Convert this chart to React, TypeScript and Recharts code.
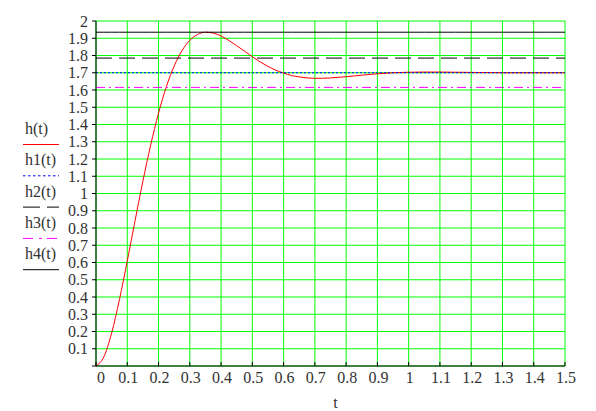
import React from 'react';
import { LineChart, Line, XAxis, YAxis, CartesianGrid, Legend } from 'recharts';

const tValues = [
  0, 0.025, 0.05, 0.075, 0.1, 0.125, 0.15, 0.175, 0.2, 0.225, 0.25, 0.275, 0.3,
  0.325, 0.35, 0.375, 0.4, 0.425, 0.45, 0.475, 0.5, 0.525, 0.55, 0.575, 0.6,
  0.625, 0.65, 0.675, 0.7, 0.725, 0.75, 0.8, 0.85, 0.9, 0.95, 1.0, 1.05, 1.1,
  1.15, 1.2, 1.25, 1.3, 1.35, 1.4, 1.45, 1.5,
];
const hValues = [
  0, 0.053, 0.191, 0.385, 0.609, 0.843, 1.072, 1.282, 1.466, 1.619, 1.739, 1.828,
  1.888, 1.922, 1.935, 1.93, 1.913, 1.887, 1.857, 1.825, 1.793, 1.763, 1.737,
  1.715, 1.698, 1.684, 1.676, 1.67, 1.668, 1.668, 1.67, 1.677, 1.686, 1.694, 1.7,
  1.703, 1.704, 1.704, 1.703, 1.702, 1.701, 1.7, 1.7, 1.7, 1.7, 1.7,
];
const h1Level = 1.7;
const h2Level = 1.785;
const h3Level = 1.615;
const h4Level = 1.935;

const xTicks = [0, 0.1, 0.2, 0.3, 0.4, 0.5, 0.6, 0.7, 0.8, 0.9, 1, 1.1, 1.2, 1.3, 1.4, 1.5];
const yTicks = [
  0, 0.1, 0.2, 0.3, 0.4, 0.5, 0.6, 0.7, 0.8, 0.9, 1, 1.1, 1.2, 1.3, 1.4, 1.5, 1.6,
  1.7, 1.8, 1.9, 2,
];
const seriesKeys = ['h', 'h1', 'h2', 'h3', 'h4'];
const seriesNames = ['h(t)', 'h1(t)', 'h2(t)', 'h3(t)', 'h4(t)'];
const xLabel = 't';

const seriesStyle: Record<string, { color: string; dash?: string; legendDash?: string }> = {
  h: { color: '#ff0000' },
  h1: { color: '#0000ff', dash: '2 2', legendDash: '2.5 2.5' },
  h2: { color: '#000000', dash: '16 7', legendDash: '17 7' },
  h3: { color: '#ff00ff', dash: '9 4 2 4', legendDash: '10 6 3 5' },
  h4: { color: '#000000' },
};

const tableData = tValues.map((t, i) => ({
  t,
  h: hValues[i],
  h1: h1Level,
  h2: h2Level,
  h3: h3Level,
  h4: h4Level,
}));

const FONT = 'Liberation Serif, Times New Roman, serif';
const TEXT = '#333333';

const renderLegend = () => (
  <svg width={70} height={170} style={{ display: 'block' }}>
    {seriesKeys.map((k, i) => (
      <g key={k}>
        <text x={17} y={26 + i * 31.3} fontFamily={FONT} fontSize={16} fill={TEXT}>
          {seriesNames[i]}
        </text>
        <line
          x1={15}
          x2={51}
          y1={36.5 + i * 31.3}
          y2={36.5 + i * 31.3}
          stroke={seriesStyle[k].color}
          strokeWidth={1}
          strokeDasharray={seriesStyle[k].legendDash}
        />
      </g>
    ))}
  </svg>
);

const XTick = (props: any) => {
  const { x, y, payload } = props;
  const shift = payload.value === 0 ? 5 : 1;
  return (
    <text x={x + shift} y={y} dy="0.71em" textAnchor="middle" fontFamily={FONT} fontSize={16} fill={TEXT}>
      {String(payload.value)}
    </text>
  );
};

export default function App() {
  return (
    <LineChart
      width={588}
      height={403}
      data={tableData}
      margin={{ top: 13, right: 31, bottom: 0, left: 28 }}
    >
      <CartesianGrid stroke="#00ff00" strokeWidth={1} horizontalValues={yTicks} verticalValues={xTicks} />
      <XAxis
        dataKey="t"
        type="number"
        domain={[0, 1.5]}
        ticks={xTicks}
        interval={0}
        height={45}
        axisLine={{ stroke: '#000000' }}
        tickLine={{ stroke: '#000000' }}
        tickSize={-4}
        tickMargin={10}
        tick={<XTick />}
        label={{ value: xLabel, position: 'insideBottom', offset: 3, dx: 5, fontFamily: FONT, fontSize: 16, fill: TEXT }}
      />
      <YAxis
        type="number"
        domain={[0, 2]}
        ticks={yTicks}
        interval={0}
        width={60}
        axisLine={{ stroke: '#000000' }}
        tickLine={{ stroke: '#000000' }}
        tickSize={4}
        tickMargin={4}
        tick={{ fontFamily: FONT, fontSize: 16, fill: TEXT }}
        tickFormatter={(v: number) => (v === 0 ? '' : String(v))}
      />
      <Legend
        layout="horizontal"
        verticalAlign="middle"
        align="center"
        content={renderLegend}
        wrapperStyle={{ left: 0, top: 100, width: 70, height: 170 }}
      />
      {seriesKeys.map((k, i) => (
        <Line
          key={k}
          dataKey={k}
          name={seriesNames[i]}
          type={k === 'h' ? 'monotone' : 'linear'}
          stroke={seriesStyle[k].color}
          strokeWidth={1}
          strokeDasharray={seriesStyle[k].dash}
          dot={false}
          activeDot={false}
          isAnimationActive={false}
        />
      ))}
    </LineChart>
  );
}
